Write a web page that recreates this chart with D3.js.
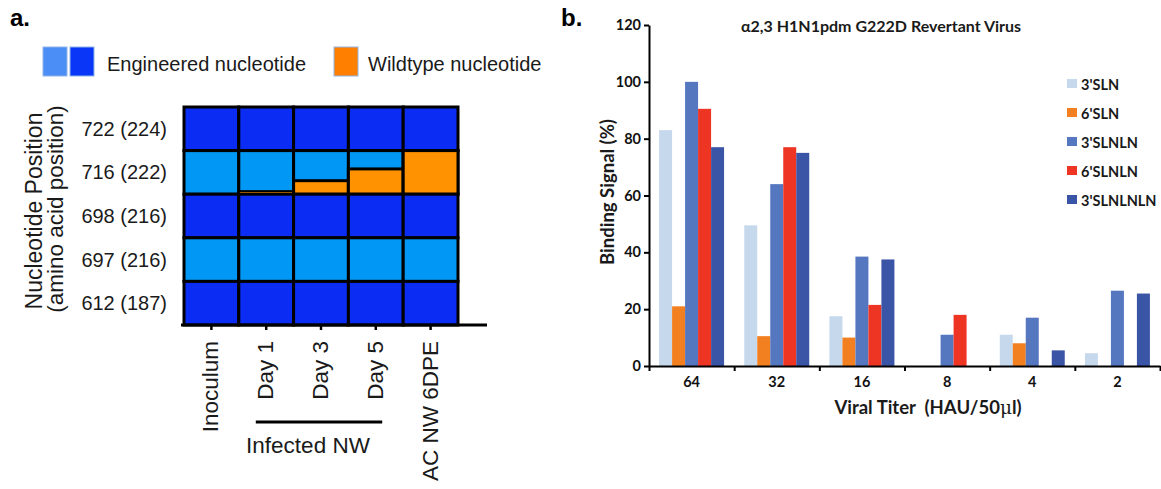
<!DOCTYPE html>
<html>
<head>
<meta charset="utf-8">
<script src="https://cdn.jsdelivr.net/npm/d3@7"></script>
<style>
  body { margin: 0; background: #fff; }
  svg { display: block; }
</style>
</head>
<body>
<div id="chart"></div>
<script>
'use strict';

// panel a: sequencing of the 5 engineered sites
const positions = ['722 (224)', '716 (222)', '698 (216)', '697 (216)', '612 (187)'];
const positionShade = ['dark', 'light', 'dark', 'light', 'dark'];
const samples = ['Inoculum', 'Day 1', 'Day 3', 'Day 5', 'AC NW 6DPE'];
const infectedSamples = ['Day 1', 'Day 3', 'Day 5'];
// fraction of wildtype nucleotide, rows follow `positions`, columns follow `samples`
const wildtypeFraction = [
    [0, 0, 0, 0, 0],
    [0, 0.07, 0.31, 0.58, 1],
    [0, 0, 0, 0, 0],
    [0, 0, 0, 0, 0],
    [0, 0, 0, 0, 0]
];

// panel b: glycan binding
const titers = ['64', '32', '16', '8', '4', '2'];
const glycans = ["3'SLN", "6'SLN", "3'SLNLN", "6'SLNLN", "3'SLNLNLN"];
const sln3 = [83, 49.5, 17.5, 0, 11, 4.5];
const sln6 = [21, 10.5, 10, 0, 8, 0];
const slnln3 = [100, 64, 38.5, 11, 17, 26.5];
const slnln6 = [90.5, 77, 21.5, 18, 0, 0];
const slnlnln3 = [77, 75, 37.5, 0, 5.5, 25.5];
const yTicks = [0, 20, 40, 60, 80, 100, 120];

const heatColor = {dark: '#0b2cf3', light: '#0098f4', wild: '#ff9200'};
const barColor = ['#c6d8ec', '#f28020', '#5477c0', '#ee3524', '#3b55a6'];

const svg = d3.select('#chart').append('svg')
    .attr('width', 1161)
    .attr('height', 489)
    .style('background', '#fff');

const ARIAL = '"Liberation Sans", Arial, sans-serif';
const CALIB = 'Lato, "Open Sans", sans-serif';

/* ---------------- panel a ---------------- */
const pa = svg.append('g').style('font-family', ARIAL).attr('fill', '#1a1a1a');

pa.append('text').attr('x', 10).attr('y', 26)
    .style('font-size', '24px').style('font-weight', 'bold').attr('fill', '#000')
    .text('a.');

// legend
const legA = [
    {x: 43, color: '#4b8ef6'},
    {x: 70, color: '#0a36f7'},
    {x: 334, color: '#ff8000'}
];
pa.selectAll('rect.leg').data(legA).enter()
    .append('rect')
    .attr('class', 'leg')
    .attr('x', d => d.x).attr('y', 47)
    .attr('width', 24).attr('height', 29)
    .attr('fill', d => d.color)
    .attr('stroke', '#8fb4e8').attr('stroke-width', 1);
pa.append('text').attr('x', 107).attr('y', 71).style('font-size', '20px').text('Engineered nucleotide');
pa.append('text').attr('x', 368).attr('y', 71).style('font-size', '20px').text('Wildtype nucleotide');

const hx = d3.scaleBand().domain(samples).range([184, 458]);
const hy = d3.scaleBand().domain(positions).range([107, 325]);

const cells = [];
positions.forEach((p, i) => samples.forEach((s, j) => {
    cells.push({pos: p, sample: s, shade: positionShade[i], wild: wildtypeFraction[i][j]});
}));

const cell = pa.selectAll('g.cell').data(cells).enter()
    .append('g').attr('class', 'cell');
cell.append('rect')
    .attr('x', d => hx(d.sample)).attr('y', d => hy(d.pos))
    .attr('width', hx.bandwidth()).attr('height', hy.bandwidth())
    .attr('fill', d => heatColor[d.shade])
    .attr('stroke', '#000').attr('stroke-width', 3);
cell.filter(d => d.wild > 0).append('rect')
    .attr('x', d => hx(d.sample))
    .attr('y', d => hy(d.pos) + hy.bandwidth() * (1 - d.wild))
    .attr('width', hx.bandwidth())
    .attr('height', d => hy.bandwidth() * d.wild)
    .attr('fill', heatColor.wild)
    .attr('stroke', '#000').attr('stroke-width', d => d.wild < 0.1 ? 2 : 3);

// row labels
pa.selectAll('text.row').data(positions).enter()
    .append('text').attr('class', 'row')
    .attr('x', 167).attr('y', d => hy(d) + hy.bandwidth() / 2)
    .attr('dy', '0.35em').attr('text-anchor', 'end')
    .style('font-size', '20px')
    .text(d => d);

pa.append('text')
    .attr('transform', 'translate(42,211) rotate(-90)')
    .attr('text-anchor', 'middle').style('font-size', '23px')
    .text('Nucleotide Position');
pa.append('text')
    .attr('transform', 'translate(63,209) rotate(-90)')
    .attr('text-anchor', 'middle').style('font-size', '22.5px')
    .text('(amino acid position)');

// bottom axis of the heat map
pa.append('line')
    .attr('x1', 181).attr('x2', 487).attr('y1', 325).attr('y2', 325)
    .attr('stroke', '#000').attr('stroke-width', 3);
const axA = pa.append('g').attr('transform', 'translate(0,325)')
    .call(d3.axisBottom(hx).tickSize(5).tickSizeOuter(0).tickFormat(''));
axA.select('.domain').remove();
axA.selectAll('.tick line').attr('stroke', '#000').attr('stroke-width', 2.5);

pa.selectAll('text.col').data(samples).enter()
    .append('text').attr('class', 'col')
    .attr('transform', d => `translate(${hx(d) + hx.bandwidth() / 2 + 7},341) rotate(-90)`)
    .attr('text-anchor', 'end')
    .style('font-size', '22.5px')
    .text(d => d);

// bracket for infected nasal washes
const bx0 = hx(infectedSamples[0]) + 17;
const bx1 = hx(infectedSamples[infectedSamples.length - 1]) + hx.bandwidth() - 21;
pa.append('line')
    .attr('x1', bx0).attr('x2', bx1).attr('y1', 422).attr('y2', 422)
    .attr('stroke', '#000').attr('stroke-width', 3);
pa.append('text')
    .attr('x', (bx0 + bx1) / 2 - 11).attr('y', 453)
    .attr('text-anchor', 'middle').style('font-size', '22.5px')
    .text('Infected NW');

/* ---------------- panel b ---------------- */
const pb = svg.append('g').style('font-family', CALIB).attr('fill', '#1a1a1a');

pb.append('text').attr('x', 561).attr('y', 26)
    .style('font-family', ARIAL)
    .style('font-size', '24px').style('font-weight', 'bold').attr('fill', '#000')
    .text('b.');

pb.append('text').attr('x', 881).attr('y', 32)
    .attr('text-anchor', 'middle')
    .style('font-size', '16px').style('font-weight', 'bold')
    .text('α2,3 H1N1pdm G222D Revertant Virus');

const x0 = d3.scaleBand().domain(titers).range([649, 1160]).paddingInner(0.237).paddingOuter(0.1185);
const x1 = d3.scaleBand().domain(glycans).range([0, x0.bandwidth()]);
const y = d3.scaleLinear().domain([0, 120]).range([366, 25]);

const series = [sln3, sln6, slnln3, slnln6, slnlnln3];
const bars = [];
titers.forEach((t, i) => glycans.forEach((g, k) => {
    bars.push({titer: t, glycan: g, k: k, value: series[k][i]});
}));

pb.selectAll('rect.bar').data(bars.filter(d => d.value > 0)).enter()
    .append('rect').attr('class', 'bar')
    .attr('x', d => x0(d.titer) + x1(d.glycan))
    .attr('y', d => y(d.value))
    .attr('width', x1.bandwidth())
    .attr('height', d => y(0) - y(d.value))
    .attr('fill', d => barColor[d.k]);

// y axis
const ay = pb.append('g').attr('transform', 'translate(649,0)')
    .call(d3.axisLeft(y).tickValues(yTicks).tickSize(5).tickSizeOuter(0).tickPadding(3));
ay.select('.domain').attr('stroke', '#000').attr('stroke-width', 2);
ay.selectAll('.tick line').attr('stroke', '#000').attr('stroke-width', 2);
ay.selectAll('.tick text')
    .style('font-family', CALIB).style('font-size', '14.5px').style('font-weight', 'bold')
    .attr('fill', '#111');

// x axis: boundary ticks and centred labels
const xb = d3.scaleLinear().domain([0, titers.length]).range([649, 1160]);
const axB = pb.append('g').attr('transform', 'translate(0,366)')
    .call(d3.axisBottom(xb).ticks(titers.length).tickSize(5).tickSizeOuter(0).tickFormat(''));
axB.select('.domain').attr('stroke', '#000').attr('stroke-width', 2);
axB.selectAll('.tick line').attr('stroke', '#000').attr('stroke-width', 2);
const axL = pb.append('g').attr('transform', 'translate(0,366)')
    .call(d3.axisBottom(x0).tickSize(0).tickPadding(11));
axL.select('.domain').remove();
axL.selectAll('.tick text')
    .style('font-family', CALIB).style('font-size', '14.5px').style('font-weight', 'bold')
    .attr('fill', '#111');

const xt = pb.append('text').attr('x', 928).attr('y', 414)
    .attr('text-anchor', 'middle')
    .style('font-size', '18.5px').style('font-weight', 'bold');
xt.append('tspan').text('Viral Titer\u00a0\u00a0(HAU/50');
xt.append('tspan').style('font-family', '"DejaVu Serif", serif').style('font-weight', 'normal').text('μ');
xt.append('tspan').text('l)');

pb.append('text')
    .attr('transform', 'translate(614,192) rotate(-90)')
    .attr('text-anchor', 'middle')
    .style('font-size', '18.5px').style('font-weight', 'bold')
    .text('Binding Signal (%)');

// legend
const ly = d3.scalePoint().domain(glycans).range([90, 206]);
const leg = pb.selectAll('g.legb').data(glycans).enter()
    .append('g').attr('class', 'legb')
    .attr('transform', d => `translate(1067,${ly(d)})`);
leg.append('rect').attr('x', 0).attr('y', -11).attr('width', 10).attr('height', 9)
    .attr('fill', (d, i) => barColor[i]);
leg.append('text').attr('x', 14).attr('y', 0)
    .style('font-size', '14.5px').style('font-weight', 'bold')
    .text(d => d);
</script>
</body>
</html>
